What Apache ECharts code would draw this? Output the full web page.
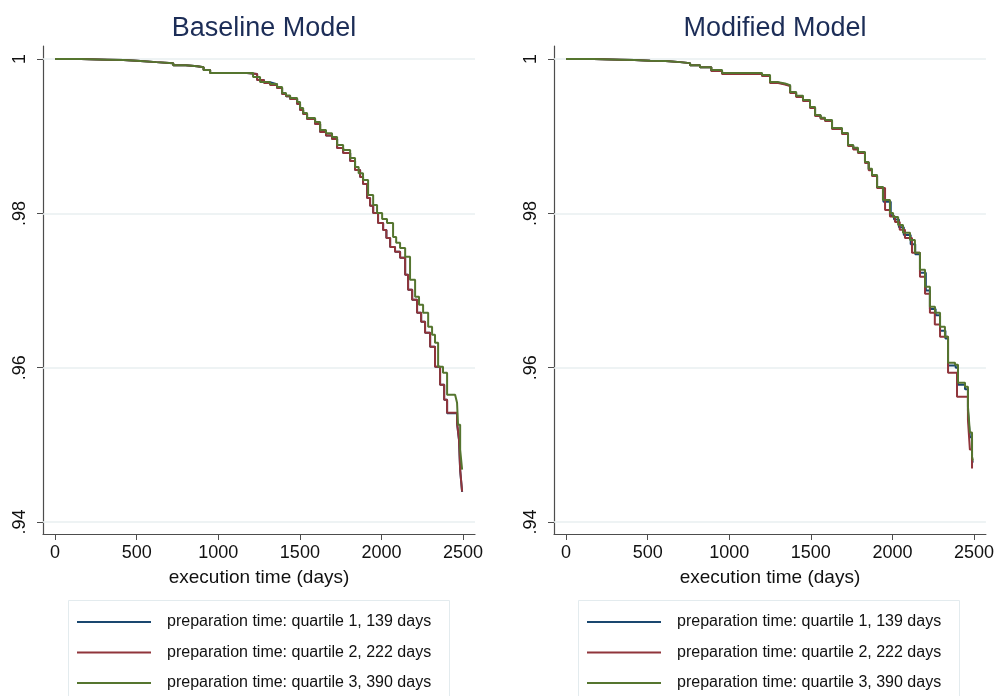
<!DOCTYPE html>
<html>
<head>
<meta charset="utf-8">
<script src="https://cdn.jsdelivr.net/npm/echarts@6/dist/echarts.min.js"></script>
<style>
html,body{margin:0;padding:0;background:#fff;}
#chart{width:997px;height:696px;}
</style>
</head>
<body>
<div id="chart"></div>
<script>
// ---- data ----
var panelTitles = ['Baseline Model', 'Modified Model'];
var seriesNames = [
  'preparation time: quartile 1, 139 days',
  'preparation time: quartile 2, 222 days',
  'preparation time: quartile 3, 390 days'
];
var xTicks = [0, 500, 1000, 1500, 2000, 2500];
var yTicks = [0.94, 0.96, 0.98, 1];
var yTickLabels = ['.94', '.96', '.98', '1'];

var leftQ1 = [[0,1],[160,0.99993],[319,0.99987],[420,0.99974],[523,0.99961],[620,0.99948],[724,0.99922],[800,0.99909],[871,0.99896],[910,0.99858],[950,0.99819],[1176,0.99806],[1238,0.99728],[1280,0.99700],[1317,0.99676],[1360,0.99625],[1391,0.99547],[1415,0.99520],[1440,0.99482],[1483,0.99417],[1501,0.99340],[1520,0.99290],[1544,0.99223],[1593,0.99159],[1624,0.99055],[1660,0.99010],[1697,0.98964],[1728,0.98848],[1765,0.98783],[1808,0.98680],[1838,0.98563],[1869,0.98472],[1887,0.98382],[1912,0.98201],[1930,0.98100],[1949,0.98006],[1979,0.97877],[2010,0.97786],[2030,0.97680],[2053,0.97566],[2083,0.97502],[2114,0.97424],[2145,0.97204],[2163,0.97010],[2188,0.96880],[2218,0.96712],[2243,0.96595],[2267,0.96453],[2298,0.96272],[2328,0.96013],[2359,0.95780],[2384,0.95586],[2402,0.95410],[2463,0.95280],[2475,0.95060],[2482,0.94670],[2494,0.94390]];
var leftQ2 = [[0,1],[160,0.99993],[319,0.99987],[420,0.99974],[523,0.99961],[620,0.99948],[724,0.99922],[800,0.99909],[871,0.99896],[910,0.99858],[950,0.99819],[1176,0.99806],[1238,0.99728],[1280,0.99690],[1317,0.99663],[1360,0.99625],[1391,0.99547],[1415,0.99520],[1440,0.99482],[1483,0.99417],[1501,0.99340],[1520,0.99290],[1544,0.99223],[1593,0.99159],[1624,0.99055],[1660,0.99010],[1697,0.98964],[1728,0.98848],[1765,0.98783],[1808,0.98680],[1838,0.98563],[1869,0.98472],[1887,0.98382],[1912,0.98201],[1930,0.98100],[1949,0.98006],[1979,0.97877],[2010,0.97786],[2030,0.97680],[2053,0.97566],[2083,0.97502],[2114,0.97424],[2145,0.97204],[2163,0.97010],[2188,0.96880],[2218,0.96712],[2243,0.96595],[2267,0.96453],[2298,0.96272],[2328,0.96013],[2359,0.95780],[2384,0.95586],[2402,0.95417],[2463,0.95288],[2475,0.95068],[2482,0.94680],[2494,0.94395]];
var leftQ3 = [[0,1],[160,0.99993],[319,0.99987],[420,0.99974],[523,0.99961],[620,0.99948],[724,0.99922],[800,0.99909],[871,0.99896],[910,0.99858],[950,0.99819],[1176,0.99819],[1213,0.99767],[1256,0.99702],[1317,0.99676],[1360,0.99638],[1391,0.99560],[1415,0.99530],[1440,0.99495],[1483,0.99443],[1501,0.99366],[1520,0.99300],[1544,0.99236],[1593,0.99184],[1624,0.99081],[1660,0.99040],[1697,0.98990],[1728,0.98887],[1765,0.98822],[1808,0.98718],[1838,0.98602],[1860,0.98520],[1887,0.98434],[1918,0.98239],[1949,0.98110],[1973,0.98006],[2004,0.97929],[2034,0.97877],[2071,0.97696],[2090,0.97620],[2114,0.97553],[2145,0.97437],[2175,0.97139],[2206,0.96919],[2230,0.96816],[2255,0.96712],[2286,0.96531],[2310,0.96427],[2328,0.96324],[2347,0.96013],[2377,0.95935],[2402,0.95650],[2451,0.95625],[2463,0.95547],[2469,0.95262],[2482,0.94939],[2494,0.94680]];

var rightQ1 = [[0,1],[170,0.99993],[331,0.99987],[420,0.99980],[515,0.99974],[610,0.99961],[699,0.99948],[760,0.99922],[821,0.99896],[890,0.99850],[956,0.99812],[1201,0.99786],[1250,0.99696],[1300,0.99676],[1342,0.99657],[1373,0.99566],[1410,0.99520],[1452,0.99463],[1495,0.99372],[1526,0.99268],[1560,0.99235],[1587,0.99204],[1630,0.99100],[1691,0.99036],[1728,0.98880],[1760,0.98840],[1789,0.98790],[1832,0.98660],[1855,0.98570],[1875,0.98491],[1906,0.98336],[1945,0.98150],[1990,0.97970],[2010,0.97920],[2040,0.97820],[2070,0.97720],[2112,0.97600],[2140,0.97470],[2169,0.97230],[2205,0.97000],[2230,0.96760],[2265,0.96680],[2292,0.96480],[2325,0.96380],[2341,0.96030],[2388,0.96000],[2402,0.95780],[2445,0.95720],[2463,0.95440],[2475,0.95100],[2488,0.94800],[2494,0.94770]];
var rightQ2 = [[0,1],[170,0.99993],[331,0.99987],[420,0.99980],[515,0.99974],[610,0.99961],[699,0.99948],[760,0.99922],[821,0.99896],[890,0.99845],[956,0.99806],[1201,0.99780],[1250,0.99689],[1300,0.99670],[1342,0.99650],[1373,0.99560],[1410,0.99510],[1452,0.99456],[1495,0.99366],[1526,0.99262],[1560,0.99228],[1587,0.99197],[1630,0.99094],[1691,0.99029],[1728,0.98874],[1760,0.98830],[1789,0.98783],[1832,0.98654],[1855,0.98560],[1875,0.98485],[1906,0.98330],[1955,0.98045],[1985,0.97960],[2016,0.97890],[2045,0.97790],[2077,0.97683],[2120,0.97489],[2169,0.97178],[2200,0.96960],[2230,0.96712],[2260,0.96560],[2292,0.96401],[2341,0.95935],[2396,0.95625],[2463,0.95327],[2475,0.94939],[2488,0.94693]];
var rightQ3 = [[0,1],[170,0.99993],[331,0.99987],[420,0.99980],[515,0.99974],[610,0.99961],[699,0.99948],[760,0.99922],[821,0.99896],[890,0.99858],[956,0.99819],[1201,0.99793],[1250,0.99702],[1300,0.99683],[1342,0.99663],[1373,0.99573],[1410,0.99525],[1452,0.99469],[1495,0.99379],[1526,0.99275],[1560,0.99240],[1587,0.99210],[1630,0.99107],[1691,0.99042],[1728,0.98887],[1760,0.98850],[1789,0.98796],[1832,0.98667],[1855,0.98580],[1875,0.98498],[1906,0.98343],[1942,0.98175],[1985,0.98006],[2004,0.97955],[2035,0.97850],[2065,0.97748],[2108,0.97657],[2138,0.97489],[2169,0.97269],[2200,0.97049],[2230,0.96790],[2261,0.96712],[2292,0.96531],[2322,0.96401],[2341,0.96065],[2384,0.96039],[2402,0.95806],[2445,0.95754],[2463,0.95495],[2475,0.95159],[2488,0.94848],[2494,0.94796]];

// ---- chart ----
var colors = ['#1a476f', '#90353b', '#55752f'];
var FONT = 'Liberation Sans, Arial, sans-serif';
var grids = [
  {left: 43, top: 46, width: 432, height: 488},
  {left: 554, top: 46, width: 432, height: 488}
];
var axisColor = '#4d4d4d';
var gridColor = '#e8eff1';

function xAx(i) {
  return {
    type: 'value', gridIndex: i, min: -74, max: 2573,
    name: 'execution time (days)', nameLocation: 'middle', nameGap: 34,
    nameTextStyle: {fontFamily: FONT, fontSize: 19, color: '#111'},
    axisLine: {show: true, onZero: false, lineStyle: {color: axisColor, width: 1.2}},
    axisTick: {show: true, length: 6, customValues: xTicks, lineStyle: {color: axisColor}},
    axisLabel: {customValues: xTicks, margin: 10, fontFamily: FONT, fontSize: 18, color: '#111',
      formatter: function (v) { return String(v); }},
    splitLine: {show: false}
  };
}
function yAx(i) {
  return {
    type: 'value', gridIndex: i, min: 0.93845, max: 1.0017,
    axisLine: {show: true, onZero: false, lineStyle: {color: axisColor, width: 1.2}},
    axisTick: {show: true, length: 6, customValues: yTicks, lineStyle: {color: axisColor}},
    axisLabel: {customValues: yTicks, rotate: 90, margin: 14, fontFamily: FONT, fontSize: 18, color: '#111',
      formatter: function (v) { var k = yTicks.findIndex(function (t) { return Math.abs(t - v) < 1e-9; }); return k >= 0 ? yTickLabels[k] : ''; }},
    splitLine: {show: false}
  };
}
var panelData = [[leftQ1, leftQ2, leftQ3], [rightQ1, rightQ2, rightQ3]];
var series = [];
panelData.forEach(function (sets, p) {
  sets.forEach(function (d, k) {
    var s = {
      name: seriesNames[k], type: 'line', step: 'end', xAxisIndex: p, yAxisIndex: p,
      data: d, symbol: 'none', showSymbol: false, animation: false,
      lineStyle: {color: colors[k], width: 2}, itemStyle: {color: colors[k]},
      z: 3 + k
    };
    if (k === 0) {
      s.markLine = {
        silent: true, symbol: 'none', animation: false, label: {show: false},
        lineStyle: {color: gridColor, width: 1.5, type: 'solid'},
        data: yTicks.map(function (v) { return {yAxis: v}; }),
        z: 1
      };
    }
    series.push(s);
  });
});

var chart = echarts.init(document.getElementById('chart'), null, {renderer: 'canvas'});
chart.setOption({
  backgroundColor: '#fff',
  animation: false,
  title: [
    {text: panelTitles[0], left: 259, top: 10, textAlign: 'center', textStyle: {fontFamily: FONT, fontSize: 27, fontWeight: 'normal', color: '#1c2d57'}},
    {text: panelTitles[1], left: 770, top: 10, textAlign: 'center', textStyle: {fontFamily: FONT, fontSize: 27, fontWeight: 'normal', color: '#1c2d57'}}
  ],
  grid: grids,
  xAxis: [xAx(0), xAx(1)],
  yAxis: [yAx(0), yAx(1)],
  legend: [0, 1].map(function (p) {
    return {
      data: seriesNames, orient: 'vertical', left: p === 0 ? 77 : 587, top: 614,
      padding: 0, icon: 'rect', itemWidth: 74, itemHeight: 2, itemGap: 14.5, selectedMode: false,
      textStyle: {fontFamily: FONT, fontSize: 16, color: '#111', padding: [0, 0, 0, 11]}
    };
  }),
  graphic: [
    {type: 'rect', shape: {x: 68.5, y: 600.5, width: 381, height: 110}, style: {fill: 'none', stroke: '#e3ebee', lineWidth: 1}},
    {type: 'rect', shape: {x: 578.5, y: 600.5, width: 381, height: 110}, style: {fill: 'none', stroke: '#e3ebee', lineWidth: 1}}
  ],
  series: series
});
</script>
</body>
</html>
